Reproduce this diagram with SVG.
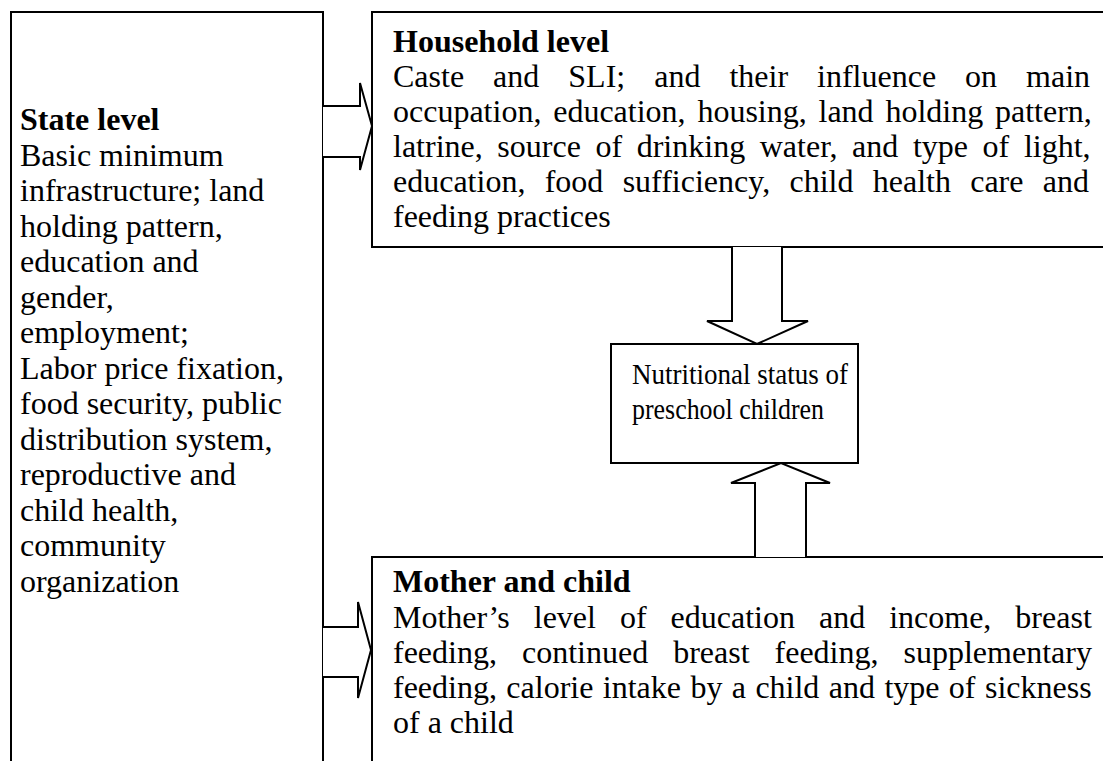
<svg xmlns="http://www.w3.org/2000/svg" width="1103" height="761" viewBox="0 0 1103 761">
<style>
.box{fill:#fff;stroke:#000;stroke-width:2}
.arr{fill:#fff;stroke:#000;stroke-width:2;stroke-linejoin:miter}
.t{font-family:"Liberation Serif","Times New Roman",serif;font-size:32px;fill:#000}
.b{font-weight:bold}
.n{font-family:"Liberation Serif","Times New Roman",serif;font-size:29px;fill:#000}
</style>
<rect width="1103" height="761" fill="#fff"/>
<g id="state">
<rect class="box" x="11" y="12" width="312" height="770"/>
<text class="t b" x="20" y="130">State level</text>
<text class="t" x="20" y="165.5">Basic minimum</text>
<text class="t" x="20" y="201">infrastructure; land</text>
<text class="t" x="20" y="236.5">holding pattern,</text>
<text class="t" x="20" y="272">education and</text>
<text class="t" x="20" y="307.5">gender,</text>
<text class="t" x="20" y="343">employment;</text>
<text class="t" x="20" y="378.5">Labor price fixation,</text>
<text class="t" x="20" y="414">food security, public</text>
<text class="t" x="20" y="449.5">distribution system,</text>
<text class="t" x="20" y="485">reproductive and</text>
<text class="t" x="20" y="520.5">child health,</text>
<text class="t" x="20" y="556">community</text>
<text class="t" x="20" y="591.5">organization</text>
</g>
<g id="household">
<rect class="box" x="372" y="12" width="760" height="235"/>
<text class="t b" x="393" y="52">Household level</text>
<text class="t" x="393" y="87" word-spacing="21">Caste and SLI; and their influence on main</text>
<text class="t" x="393" y="122" word-spacing="3.8">occupation, education, housing, land holding pattern,</text>
<text class="t" x="393" y="157" word-spacing="6.6">latrine, source of drinking water, and type of light,</text>
<text class="t" x="393" y="192" word-spacing="11.3">education, food sufficiency, child health care and</text>
<text class="t" x="393" y="227">feeding practices</text>
</g>
<g id="nutrition">
<rect class="box" x="611" y="344" width="247" height="119"/>
<text class="n" x="632" y="384" textLength="216" lengthAdjust="spacingAndGlyphs">Nutritional status of</text>
<text class="n" x="632" y="419" textLength="192" lengthAdjust="spacingAndGlyphs">preschool children</text>
</g>
<g id="mother">
<rect class="box" x="372" y="557" width="760" height="230"/>
<text class="t b" x="393" y="592">Mother and child</text>
<text class="t" x="393" y="628" word-spacing="16">Mother’s level of education and income, breast</text>
<text class="t" x="393" y="663" word-spacing="17">feeding, continued breast feeding, supplementary</text>
<text class="t" x="393" y="698" word-spacing="1.4">feeding, calorie intake by a child and type of sickness</text>
<text class="t" x="393" y="733">of a child</text>
</g>
<g id="connectors">
<path class="arr" d="M323,106 H360 V83 L372,126 L360,170 V157 H323"/>
<path class="arr" d="M323,627 H358 V602 L371,650 L358,698 V677 H323"/>
<path class="arr" d="M732,247 V321 H707 L757,344 L808,321 H782 V247"/>
<path class="arr" d="M755,557 V483 H731 L781,463 L830,483 H806 V557"/>
</g>
</svg>
